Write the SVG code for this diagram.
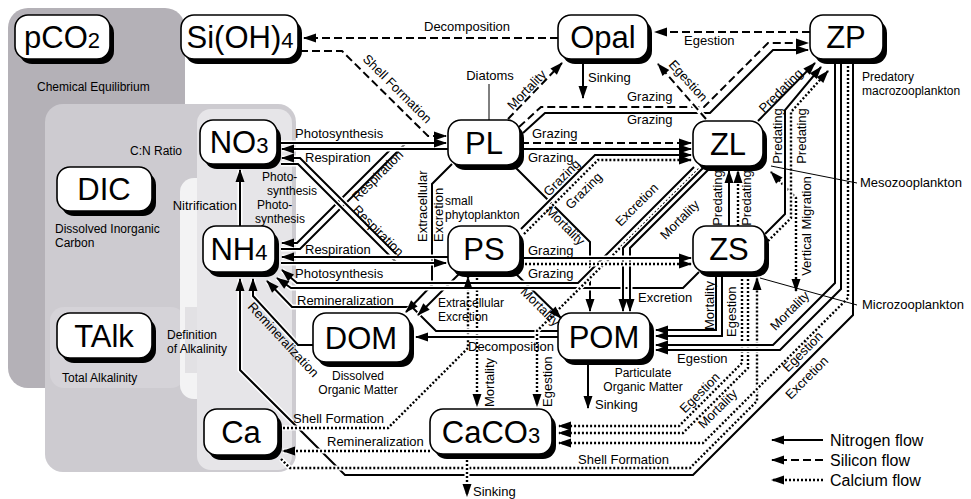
<svg xmlns="http://www.w3.org/2000/svg" width="971" height="499" viewBox="0 0 971 499">
<style>
text{font-family:"Liberation Sans",Arial,sans-serif;font-size:13px;fill:#000}
.nt{font-size:31px;text-anchor:middle}
.sub{font-size:22px}
.sm{font-size:12px}
.bx{fill:#fff;stroke:#000;stroke-width:1.6}
.sh{fill:#000}
.w{fill:none;stroke:#fff;stroke-width:5}
.k{fill:none;stroke:#000;stroke-width:2}
.d{stroke-dasharray:8 4}
.o{stroke-dasharray:2 2;stroke-width:2.4}
.m{fill:none;stroke:none;marker-end:url(#ah)}
.ms{fill:none;stroke:none;marker-start:url(#ahs)}
.ld{stroke:#000;stroke-width:1;fill:none}
.mid{text-anchor:middle}
.leg{font-size:16px}
</style>
<defs>
<marker id="ah" markerUnits="userSpaceOnUse" markerWidth="14" markerHeight="10" refX="12" refY="4.5" orient="auto" overflow="visible"><path d="M0,0 L13,4.5 L0,9 z" fill="#000" stroke="none"/></marker>
<marker id="ahs" markerUnits="userSpaceOnUse" markerWidth="14" markerHeight="10" refX="12" refY="4.5" orient="auto-start-reverse" overflow="visible"><path d="M0,0 L13,4.5 L0,9 z" fill="#000" stroke="none"/></marker>
<path id="s1" d="M558,38 H304"/>
<path id="s2" d="M300,51 H342 L428,136 H446"/>
<path id="s3" d="M810,32 H655"/>
<path id="s4" d="M706,119 L658,64"/>
<path id="s5" d="M519,127 L541,107 H704 L768,43 H808"/>
<path id="s6" d="M508,119 L562,63"/>
<path id="s7" d="M521,143 H691"/>
<path id="n1" d="M583,61 V98"/>
<path id="n2" d="M523,133 L545,113 H710 L773,50 H808"/>
<path id="n3" d="M521,149 H691"/>
<path id="n4" d="M521,229 L595,155 H691"/>
<path id="n5" d="M521,258 H691"/>
<path id="n6" d="M758,121 L815,63"/>
<path id="n7" d="M765,234 L785,214 V110 L821,67"/>
<path id="n8" d="M729,226 V171"/>
<path id="n9" d="M514,166 L590,242 V311"/>
<path id="n10" d="M514,272 L561,318"/>
<path id="n11" d="M694,167 L578,283 H297 L282,270"/>
<path id="n12" d="M703,168 L623,248 V311"/>
<path id="n13" d="M710,168 L630,248 V311"/>
<path id="n14" d="M699,272 L683,288 H291 L277,278"/>
<path id="n15" d="M716,275 V330 H656"/>
<path id="n16" d="M722,275 V336 H656"/>
<path id="n17" d="M835,62 V283 L773,345 H656"/>
<path id="n18" d="M841,62 V289 L780,350 H656"/>
<path id="n19" d="M853,62 V315 L693,475 H345 L240,370 V279"/>
<path id="n20" d="M240,226 V170"/>
<path id="n21" d="M281,143 H446"/>
<path id="n22" d="M448,149 H282"/>
<path id="n23" d="M281,249 H300 L406,143"/>
<path id="n24" d="M391,149 L297,243 H282"/>
<path id="n25" d="M399,257 L300,158 H282"/>
<path id="n26" d="M281,164 H298 L397,263"/>
<path id="n27" d="M448,257 H282"/>
<path id="n28" d="M281,263 H446"/>
<path id="n29" d="M452,164 L432,184 V285 L406,312"/>
<path id="n30" d="M460,273 L418,315"/>
<path id="n31" d="M558,337 H416"/>
<path id="n32" d="M558,331 H436 L412,307 H292 L267,281"/>
<path id="n33" d="M313,345 H298 L253,296 V279"/>
<path id="n34" d="M588,361 V408"/>
<path id="c1" d="M524,234 L598,160 H691"/>
<path id="c2" d="M521,264 H691"/>
<path id="c3" d="M768,241 L791,218 V112 L828,71"/>
<path id="c4" d="M738,226 V171"/>
<path id="c5" d="M796,291 V198 L771,172"/>
<path id="c6" d="M279,428 H388 L468,348 V277"/>
<path id="c7" d="M477,274 V406"/>
<path id="c8" d="M699,169 L537,331 V406"/>
<path id="c9" d="M430,451 H283"/>
<path id="c10" d="M281,459 L290,468 H690 L757,401 V278"/>
<path id="c11" d="M742,275 V363 L679,426 H559"/>
<path id="c12" d="M748,275 V368 L683,433 H559"/>
<path id="c13" d="M848,62 V298 L703,443 H559"/>
<path id="c14" d="M467,456 V496"/>
<path id="l1" d="M823,440 H772"/>
<path id="l2" d="M823,460 H772"/>
<path id="l3" d="M823,480 H772"/>
</defs>
<rect width="971" height="499" fill="#fff"/>
<g id="regions">
<rect x="8" y="8" width="177" height="380" rx="20" fill="#b4b1b7"/>
<rect x="45" y="104" width="251" height="368" rx="18" fill="#cdcbd0"/>
<rect x="50" y="307" width="135" height="81" rx="14" fill="#d5d3d8"/>
<rect x="180" y="178" width="40" height="221" rx="14" fill="#f3f3f4"/>
<rect x="185" y="307" width="20" height="66" fill="#e2e1e4"/>
<rect x="197" y="109" width="95" height="361" rx="14" fill="#e6e5e8"/>
</g>
<g id="connectors">
<use href="#n19" class="w"/><use href="#n19" class="k"/>
<use href="#c10" class="w"/><use href="#c10" class="k o"/>
<use href="#c13" class="w"/><use href="#c13" class="k o"/>
<use href="#c11" class="w"/><use href="#c11" class="k o"/>
<use href="#c12" class="w"/><use href="#c12" class="k o"/>
<use href="#n17" class="w"/><use href="#n17" class="k"/>
<use href="#n18" class="w"/><use href="#n18" class="k"/>
<use href="#n15" class="w"/><use href="#n15" class="k"/>
<use href="#n16" class="w"/><use href="#n16" class="k"/>
<use href="#c9" class="w"/><use href="#c9" class="k o"/>
<use href="#c6" class="w"/><use href="#c6" class="k o"/>
<use href="#c7" class="w"/><use href="#c7" class="k o"/>
<use href="#c14" class="w"/><use href="#c14" class="k o"/>
<use href="#n34" class="w"/><use href="#n34" class="k"/>
<use href="#n33" class="w"/><use href="#n33" class="k"/>
<use href="#n32" class="w"/><use href="#n32" class="k"/>
<use href="#n31" class="w"/><use href="#n31" class="k"/>
<use href="#n29" class="w"/><use href="#n29" class="k"/>
<use href="#n30" class="w"/><use href="#n30" class="k"/>
<use href="#n9" class="w"/><use href="#n9" class="k"/>
<use href="#n10" class="w"/><use href="#n10" class="k"/>
<use href="#n11" class="w"/><use href="#n11" class="k"/>
<use href="#n14" class="w"/><use href="#n14" class="k"/>
<use href="#c8" class="w"/><use href="#c8" class="k o"/>
<use href="#n12" class="w"/><use href="#n12" class="k"/>
<use href="#n13" class="w"/><use href="#n13" class="k"/>
<use href="#n4" class="w"/><use href="#n4" class="k"/>
<use href="#c1" class="w"/><use href="#c1" class="k o"/>
<use href="#n5" class="w"/><use href="#n5" class="k"/>
<use href="#c2" class="w"/><use href="#c2" class="k o"/>
<use href="#n23" class="w"/><use href="#n23" class="k"/>
<use href="#n24" class="w"/><use href="#n24" class="k"/>
<use href="#n25" class="w"/><use href="#n25" class="k"/>
<use href="#n26" class="w"/><use href="#n26" class="k"/>
<use href="#n21" class="w"/><use href="#n21" class="k"/>
<use href="#n22" class="w"/><use href="#n22" class="k"/>
<use href="#n27" class="w"/><use href="#n27" class="k"/>
<use href="#n28" class="w"/><use href="#n28" class="k"/>
<use href="#n20" class="w"/><use href="#n20" class="k"/>
<use href="#n8" class="w"/><use href="#n8" class="k"/>
<use href="#c4" class="w"/><use href="#c4" class="k o"/>
<use href="#c5" class="w"/><use href="#c5" class="k o"/>
<use href="#n7" class="w"/><use href="#n7" class="k"/>
<use href="#c3" class="w"/><use href="#c3" class="k o"/>
<use href="#n6" class="w"/><use href="#n6" class="k"/>
<use href="#s7" class="w"/><use href="#s7" class="k d"/>
<use href="#n3" class="w"/><use href="#n3" class="k"/>
<use href="#n2" class="w"/><use href="#n2" class="k"/>
<use href="#s5" class="w"/><use href="#s5" class="k d"/>
<use href="#s4" class="w"/><use href="#s4" class="k d"/>
<use href="#s6" class="w"/><use href="#s6" class="k d"/>
<use href="#n1" class="w"/><use href="#n1" class="k"/>
<use href="#s3" class="w"/><use href="#s3" class="k d"/>
<use href="#s2" class="w"/><use href="#s2" class="k d"/>
<use href="#s1" class="w"/><use href="#s1" class="k d"/>
<path class="ld" d="M489,84 V120"/>
<path class="ld" d="M771,166 L857,183"/>
<path class="ld" d="M760,278 L857,305"/>
</g>
<g id="node-pCO2"><rect class="sh" x="19" y="20" width="95" height="44" rx="13"/><rect class="bx" x="15" y="15" width="95" height="44" rx="13"/><text class="nt" x="62" y="48">pCO<tspan class="sub">2</tspan></text></g>
<g id="node-SiOH4"><rect class="sh" x="185" y="20" width="117" height="44" rx="13"/><rect class="bx" x="181" y="15" width="117" height="44" rx="13"/><text class="nt" x="240" y="48">Si(OH)<tspan class="sub">4</tspan></text></g>
<g id="node-Opal"><rect class="sh" x="562" y="20" width="90" height="44" rx="13"/><rect class="bx" x="558" y="15" width="90" height="44" rx="13"/><text class="nt" x="603" y="48">Opal</text></g>
<g id="node-ZP"><rect class="sh" x="814" y="20" width="73" height="44" rx="13"/><rect class="bx" x="810" y="15" width="73" height="44" rx="13"/><text class="nt" x="846" y="48">ZP</text></g>
<g id="node-NO3"><rect class="sh" x="204" y="125" width="77" height="44" rx="13"/><rect class="bx" x="200" y="120" width="77" height="44" rx="13"/><text class="nt" x="239" y="153">NO<tspan class="sub">3</tspan></text></g>
<g id="node-PL"><rect class="sh" x="452" y="125" width="72" height="45" rx="13"/><rect class="bx" x="448" y="120" width="72" height="45" rx="13"/><text class="nt" x="484" y="154">PL</text></g>
<g id="node-ZL"><rect class="sh" x="697" y="126" width="70" height="45" rx="13"/><rect class="bx" x="693" y="121" width="70" height="45" rx="13"/><text class="nt" x="728" y="155">ZL</text></g>
<g id="node-DIC"><rect class="sh" x="61" y="172" width="95" height="44" rx="13"/><rect class="bx" x="57" y="167" width="95" height="44" rx="13"/><text class="nt" x="104" y="200">DIC</text></g>
<g id="node-NH4"><rect class="sh" x="207" y="231" width="72" height="46" rx="13"/><rect class="bx" x="203" y="226" width="72" height="46" rx="13"/><text class="nt" x="239" y="260">NH<tspan class="sub">4</tspan></text></g>
<g id="node-PS"><rect class="sh" x="452" y="231" width="72" height="46" rx="13"/><rect class="bx" x="448" y="226" width="72" height="46" rx="13"/><text class="nt" x="484" y="260">PS</text></g>
<g id="node-ZS"><rect class="sh" x="697" y="231" width="72" height="46" rx="13"/><rect class="bx" x="693" y="226" width="72" height="46" rx="13"/><text class="nt" x="729" y="260">ZS</text></g>
<g id="node-TAlk"><rect class="sh" x="61" y="318" width="95" height="45" rx="13"/><rect class="bx" x="57" y="313" width="95" height="45" rx="13"/><text class="nt" x="104" y="347">TAlk</text></g>
<g id="node-DOM"><rect class="sh" x="317" y="318" width="97" height="49" rx="13"/><rect class="bx" x="313" y="313" width="97" height="49" rx="13"/><text class="nt" x="361" y="349">DOM</text></g>
<g id="node-POM"><rect class="sh" x="562" y="318" width="92" height="47" rx="13"/><rect class="bx" x="558" y="313" width="92" height="47" rx="13"/><text class="nt" x="604" y="348">POM</text></g>
<g id="node-Ca"><rect class="sh" x="208" y="414" width="74" height="46" rx="13"/><rect class="bx" x="204" y="409" width="74" height="46" rx="13"/><text class="nt" x="241" y="443">Ca</text></g>
<g id="node-CaCO3"><rect class="sh" x="434" y="414" width="122" height="45" rx="13"/><rect class="bx" x="430" y="409" width="122" height="45" rx="13"/><text class="nt" x="491" y="443">CaCO<tspan class="sub">3</tspan></text></g>
<g id="arrowheads">
<use href="#s1" class="m"/><use href="#s2" class="m"/><use href="#s3" class="m"/><use href="#s4" class="m"/><use href="#s5" class="m"/><use href="#s6" class="m"/><use href="#s7" class="m"/>
<use href="#n1" class="m"/><use href="#n2" class="m"/><use href="#n3" class="m"/><use href="#n4" class="m"/><use href="#n5" class="m"/><use href="#n6" class="m"/><use href="#n7" class="m"/><use href="#n8" class="m"/><use href="#n9" class="m"/><use href="#n10" class="m"/><use href="#n11" class="m"/><use href="#n12" class="m"/><use href="#n13" class="m"/><use href="#n14" class="m"/><use href="#n15" class="m"/><use href="#n16" class="m"/><use href="#n17" class="m"/><use href="#n18" class="m"/><use href="#n19" class="m"/><use href="#n20" class="m"/><use href="#n21" class="m"/><use href="#n22" class="m"/><use href="#n24" class="m"/><use href="#n25" class="m"/><use href="#n27" class="m"/><use href="#n28" class="m"/><use href="#n29" class="m"/><use href="#n30" class="m"/><use href="#n31" class="m"/><use href="#n32" class="m"/><use href="#n33" class="m"/><use href="#n34" class="m"/>
<use href="#c1" class="m"/><use href="#c2" class="m"/><use href="#c3" class="m"/><use href="#c4" class="m"/><use href="#c5" class="m"/><use href="#c5" class="ms"/><use href="#c6" class="m"/><use href="#c7" class="m"/><use href="#c8" class="m"/><use href="#c9" class="m"/><use href="#c10" class="m"/><use href="#c11" class="m"/><use href="#c12" class="m"/><use href="#c13" class="m"/><use href="#c14" class="m"/>
</g>
<g id="labels">
<text class="mid" x="467" y="31">Decomposition</text>
<text class="mid" transform="translate(397,89) rotate(45)" y="4">Shell Formation</text>
<text class="mid" x="490" y="80">Diatoms</text>
<text class="mid" transform="translate(527,90) rotate(-46)" y="4">Mortality</text>
<text x="588" y="82">Sinking</text>
<text x="684" y="45">Egestion</text>
<text class="mid" transform="translate(688,81) rotate(48)" y="4">Egestion</text>
<text x="627" y="101">Grazing</text>
<text x="627" y="124">Grazing</text>
<text class="mid" transform="translate(781,91) rotate(-45)" y="4">Predating</text>
<text class="mid" transform="translate(782,136) rotate(-90)">Predating</text>
<text class="mid" transform="translate(806,136) rotate(-90)">Predating</text>
<text x="532" y="138">Grazing</text>
<text x="528" y="162">Grazing</text>
<text class="mid" transform="translate(562,178) rotate(-45)" y="4">Grazing</text>
<text class="mid" transform="translate(584,191) rotate(-45)" y="4">Grazing</text>
<text class="mid" transform="translate(565,226) rotate(45)" y="4">Mortality</text>
<text class="mid" transform="translate(637,205) rotate(-45)" y="4">Excretion</text>
<text class="mid" transform="translate(680,220) rotate(-45)" y="4">Mortality</text>
<text class="mid" transform="translate(722,198) rotate(-90)">Predating</text>
<text class="mid" transform="translate(751,198) rotate(-90)">Predating</text>
<text class="mid" transform="translate(811,226) rotate(-90)">Vertical Migration</text>
<text x="860" y="187">Mesozooplankton</text>
<text x="862" y="309">Microzooplankton</text>
<text class="sm" x="862" y="81">Predatory</text>
<text class="sm" x="862" y="95">macrozooplankton</text>
<text x="528" y="255">Grazing</text>
<text x="528" y="278">Grazing</text>
<text class="mid" transform="translate(540,307) rotate(45)" y="4">Mortality</text>
<text x="638" y="302">Excretion</text>
<text transform="translate(714,330) rotate(-90)">Mortality</text>
<text transform="translate(736,337) rotate(-90)">Egestion</text>
<text x="677" y="363">Egestion</text>
<text class="mid" transform="translate(790,311) rotate(-45)" y="4">Mortality</text>
<text class="mid" transform="translate(803,352) rotate(-45)" y="4">Egestion</text>
<text class="mid" transform="translate(807,378) rotate(-45)" y="4">Excretion</text>
<text class="mid" transform="translate(700,393) rotate(-45)" y="4">Egestion</text>
<text class="mid" transform="translate(718,409) rotate(-45)" y="4">Mortality</text>
<text x="578" y="464">Shell Formation</text>
<text x="295" y="138">Photosynthesis</text>
<text x="305" y="162">Respiration</text>
<text class="mid" transform="translate(378,176) rotate(-45)" y="4">Respiration</text>
<text class="mid" transform="translate(378,231) rotate(45)" y="4">Respiration</text>
<text class="sm" x="262" y="181">Photo-</text>
<text class="sm" x="267" y="195">synthesis</text>
<text class="sm" x="257" y="209">Photo-</text>
<text class="sm" x="255" y="223">synthesis</text>
<text x="237" y="210" text-anchor="end">Nitrification</text>
<text x="305" y="254">Respiration</text>
<text x="295" y="278">Photosynthesis</text>
<text x="297" y="305">Remineralization</text>
<text class="mid" transform="translate(283,340) rotate(47)" y="4">Remineralization</text>
<text transform="translate(427,242) rotate(-90)">Extracellular</text>
<text transform="translate(443,242) rotate(-90)">Excretion</text>
<text class="sm" x="445" y="205">small</text>
<text class="sm" x="445" y="219">phytoplankton</text>
<text class="sm" x="438" y="307">Extracellular</text>
<text class="sm" x="438" y="321">Excretion</text>
<text x="468" y="351">Decomposition</text>
<text transform="translate(494,407) rotate(-90)">Mortality</text>
<text transform="translate(552,407) rotate(-90)">Egestion</text>
<text x="595" y="409">Sinking</text>
<text x="473" y="496">Sinking</text>
<text x="327" y="446">Remineralization</text>
<text x="293" y="423">Shell Formation</text>
<text class="mid sm" x="643" y="377">Particulate</text>
<text class="mid sm" x="643" y="391">Organic Matter</text>
<text class="mid sm" x="358" y="380">Dissolved</text>
<text class="mid sm" x="358" y="394">Organic Matter</text>
<text class="sm" x="55" y="233">Dissolved Inorganic</text>
<text class="sm" x="55" y="247">Carbon</text>
<text class="sm" x="62" y="382">Total Alkalinity</text>
<text class="sm" x="167" y="339">Definition</text>
<text class="sm" x="167" y="353">of Alkalinity</text>
<text class="sm" x="37" y="91">Chemical Equilibrium</text>
<text class="sm" x="130" y="155">C:N Ratio</text>
</g>
<g id="legend">
<use href="#l1" class="k"/><use href="#l1" class="m"/>
<use href="#l2" class="k d"/><use href="#l2" class="m"/>
<use href="#l3" class="k o"/><use href="#l3" class="m"/>
<text class="leg" x="830" y="446">Nitrogen flow</text>
<text class="leg" x="830" y="466">Silicon flow</text>
<text class="leg" x="830" y="486">Calcium flow</text>
</g>
</svg>
